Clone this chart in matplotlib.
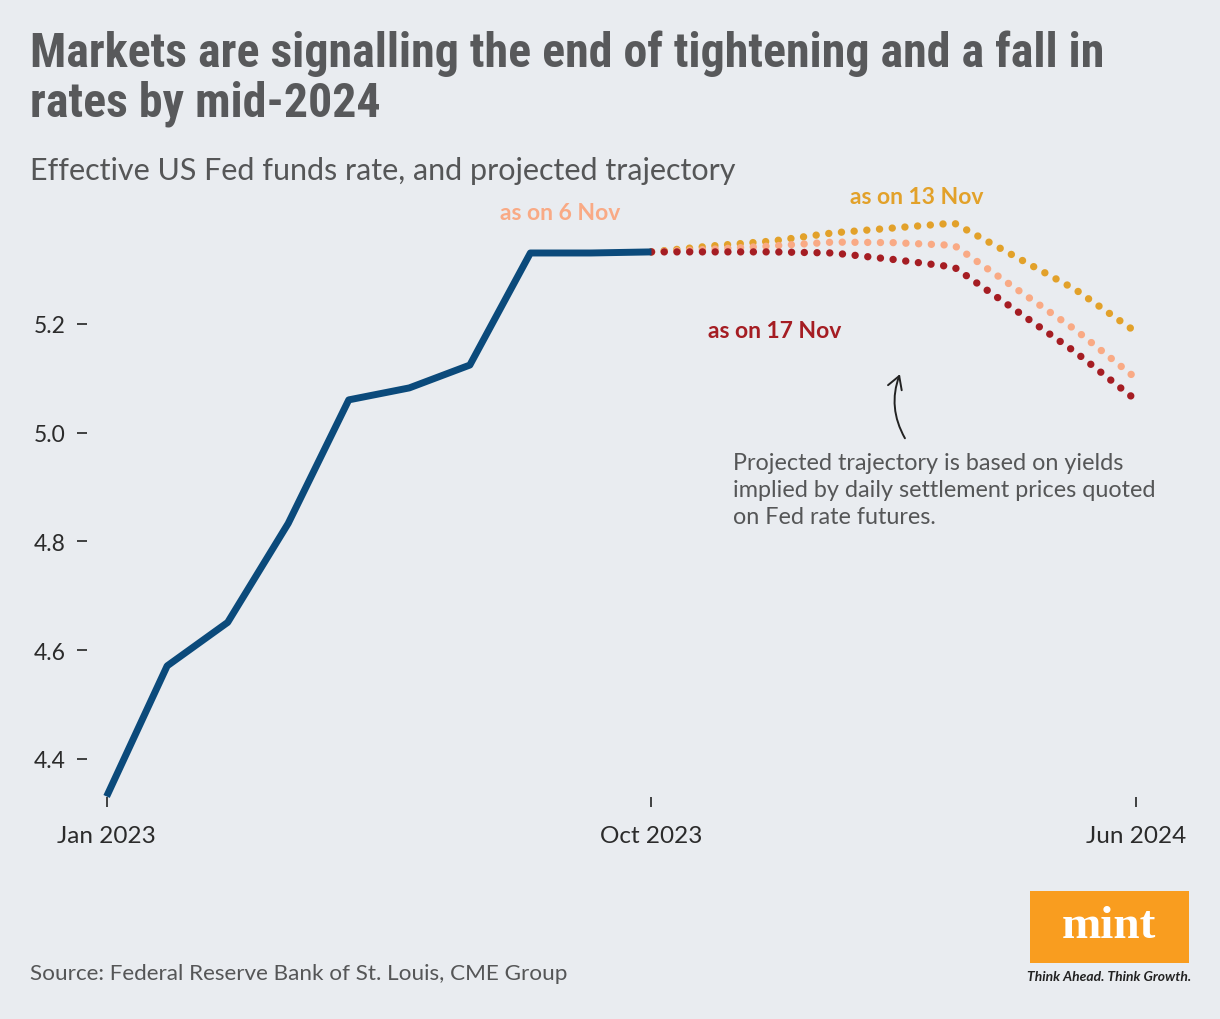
import matplotlib
matplotlib.use("Agg")
import matplotlib.pyplot as plt
from matplotlib import font_manager as fm
from matplotlib.patches import FancyArrowPatch, Rectangle

#--- Data (monthly, Jan 2023 = 0)
actual_months = [0, 1, 2, 3, 4, 5, 6, 7, 8, 9]
actual_rate = [4.331, 4.571, 4.651, 4.833, 5.060, 5.082, 5.124, 5.330, 5.330, 5.332]

proj_months = [9, 10, 11, 12, 13, 14, 15, 16, 17]
proj_13nov = [5.332, 5.343, 5.352, 5.367, 5.376, 5.385, 5.324, 5.263, 5.185]
proj_6nov = [5.332, 5.337, 5.343, 5.350, 5.349, 5.344, 5.266, 5.189, 5.100]
proj_17nov = [5.332, 5.332, 5.332, 5.330, 5.318, 5.304, 5.226, 5.148, 5.060]

x_tick_pos = [0, 9, 17]
x_tick_labels = ["Jan 2023", "Oct 2023", "Jun 2024"]
y_ticks = [4.4, 4.6, 4.8, 5.0, 5.2]

#--- Fonts
available = {f.name for f in fm.fontManager.ttflist}
title_font = "Roboto"
title_size = 28
for name in ["Roboto Condensed", "Liberation Sans Narrow", "Open Sans Condensed"]:
    if name in available:
        title_font = name
        title_size = 34.5
        break
body_font = "Lato" if "Lato" in available else "Open Sans"

bg = "#E9ECF0"
blue = "#0B4A7B"
gold = "#E2A12A"
peach = "#F9AA85"
red = "#A51D23"
grey = "#555657"

fig = plt.figure(figsize=(12.2, 10.2), dpi=100, facecolor=bg)
W, H = 1220, 1020
ax = fig.add_axes([87 / W, 1 - 798 / H, (1160 - 87) / W, (798 - 180) / H])
ax.set_facecolor(bg)
ax.patch.set_alpha(0)

dots = (0, (0.01, 1.72))
ax.plot(proj_months, proj_13nov, color=gold, lw=5.3, linestyle=dots,
        dash_capstyle="round", clip_on=False, zorder=2)
ax.plot(proj_months, proj_6nov, color=peach, lw=5.3, linestyle=dots,
        dash_capstyle="round", clip_on=False, zorder=3)
ax.plot(proj_months, proj_17nov, color=red, lw=5.3, linestyle=dots,
        dash_capstyle="round", clip_on=False, zorder=4)
ax.plot(actual_months, actual_rate, color=blue, lw=5, solid_joinstyle="round",
        solid_capstyle="butt", clip_on=False, zorder=5)

ax.set_xlim(-0.324, 17.4)
ax.set_ylim(4.330, 5.466)
ax.set_yticks(y_ticks)
ax.set_yticklabels([f"{v:.1f}" for v in y_ticks])
ax.set_xticks(x_tick_pos)
ax.set_xticklabels(x_tick_labels)
for s in ax.spines.values():
    s.set_visible(False)
ax.tick_params(axis="y", length=7, width=1.3, color="#333333", pad=8.5,
               labelsize=16.5, labelcolor="#2b2b2b")
ax.tick_params(axis="x", length=7, width=1.3, color="#333333", pad=13,
               labelsize=17.5, labelcolor="#2b2b2b")
for lab in ax.get_xticklabels() + ax.get_yticklabels():
    lab.set_family(body_font)

#--- Series labels
ax.text(7.49, 5.404, "as on 6 Nov", color=peach, fontsize=16.5, fontweight="bold",
        family=body_font, ha="center", va="center")
ax.text(13.38, 5.433, "as on 13 Nov", color=gold, fontsize=16.5, fontweight="bold",
        family=body_font, ha="center", va="center")
ax.text(11.04, 5.1875, "as on 17 Nov", color=red, fontsize=16.5, fontweight="bold",
        family=body_font, ha="center", va="center")

#--- Note with arrow
arrow = FancyArrowPatch((13.21, 4.985), (13.12, 5.112), arrowstyle="->,head_length=6,head_width=3.5",
                        connectionstyle="arc3,rad=-0.25", color="#222222", lw=1.4,
                        mutation_scale=1.5)
ax.add_patch(arrow)
ax.text(10.35, 4.965,
        "Projected trajectory is based on yields\nimplied by daily settlement prices quoted\non Fed rate futures.",
        color=grey, fontsize=16.8, family=body_font,
        ha="left", va="top", linespacing=1.37)

#--- Titles
fig.text(30 / W, 1 - 66.7 / H, "Markets are signalling the end of tightening and a fall in",
         fontsize=title_size, fontweight="bold", family=title_font, color="#58595B",
         va="baseline")
fig.text(30 / W, 1 - 116.7 / H, "rates by mid-2024",
         fontsize=title_size, fontweight="bold", family=title_font, color="#58595B",
         va="baseline")
fig.text(30 / W, 1 - 180 / H, "Effective US Fed funds rate, and projected trajectory",
         fontsize=22, family=body_font, color=grey, va="baseline")

#--- Footer
fig.text(30 / W, 1 - 980 / H, "Source: Federal Reserve Bank of St. Louis, CME Group",
         fontsize=16.2, family=body_font, color=grey, va="baseline")

logo = Rectangle((1030 / W, 1 - 964 / H), 159 / W, 72 / H, transform=fig.transFigure,
                 facecolor="#F99D1F", edgecolor="none")
fig.patches.append(logo)
fig.text(1109 / W, 1 - 938 / H, "mint", fontsize=34, fontweight="bold",
         family="Liberation Serif", color="white", ha="center", va="baseline")
fig.text(1109 / W, 1 - 977 / H, "Think Ahead. Think Growth.", fontsize=10,
         fontweight="bold", fontstyle="italic", family=body_font, color="#222222",
         ha="center", va="center")

fig.savefig("out.png", dpi=100, facecolor=bg)
